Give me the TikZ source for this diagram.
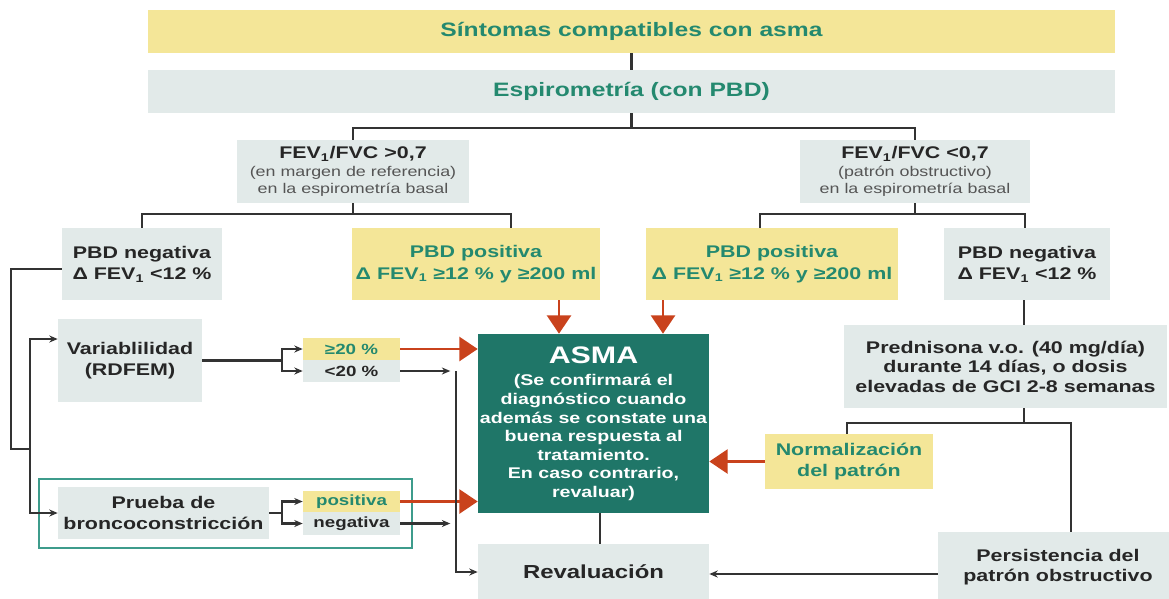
\documentclass[tikz,border=0pt]{standalone}
\usepackage{fontspec}
\setmainfont{Liberation Sans}[FakeStretch=1.27]
\usetikzlibrary{arrows.meta}
\definecolor{amarillo}{HTML}{F4E698}
\definecolor{gris}{HTML}{E2EAE9}
\definecolor{verde}{HTML}{24896F}
\definecolor{verdeasma}{HTML}{1F7668}
\definecolor{rojo}{HTML}{C9421C}
\definecolor{lineagris}{HTML}{333333}
\definecolor{texto}{HTML}{262626}
\definecolor{textonota}{HTML}{555555}
\definecolor{marco}{HTML}{3E9C8C}
\newcommand\nota[1]{{\mdseries\fontsize{10}{12}\selectfont\color{textonota}#1}}
\begin{document}
\begin{tikzpicture}[x=0.025cm, y=-0.025cm,
  caja/.style={fill=gris, text=texto, align=center, inner sep=0pt, font=\bfseries\fontsize{12}{15.4}\selectfont},
  cajaam/.style={caja, fill=amarillo, text=verde},
  peq/.style={caja, minimum width=2.425cm, font=\bfseries\fontsize{10.5}{12}\selectfont},
  con/.style={draw=lineagris, line width=1.5pt},
  flecha/.style={con, -{Stealth[length=6pt, width=5pt]}},
  roja/.style={draw=rojo, line width=2pt, -{Triangle[length=13pt, width=17pt]}}]
\useasboundingbox (0,0) rectangle (1169,598);
\draw[marco, line width=1pt] (39,479) rectangle (412,548);
% cajas
\node[cajaam, minimum width=24.175cm, minimum height=1.075cm, font=\bfseries\fontsize{13.8}{16}\selectfont] (sint) at (631.5,31.5) {Síntomas compatibles con asma};
\node[caja, text=verde, minimum width=24.175cm, minimum height=1.075cm, font=\bfseries\fontsize{13.8}{16}\selectfont] (espiro) at (631.5,91.5) {Espirometría (con PBD)};
\node[caja, minimum width=5.8cm, minimum height=1.575cm, font=\bfseries\fontsize{12}{12.5}\selectfont] (fevA) at (353,171.5) {FEV\textsubscript{1}/FVC >0,7\\ \nota{(en margen de referencia)}\\ \nota{en la espirometría basal}};
\node[caja, minimum width=5.75cm, minimum height=1.575cm, font=\bfseries\fontsize{12}{12.5}\selectfont] (fevB) at (915,171.5) {FEV\textsubscript{1}/FVC <0,7\\ \nota{(patrón obstructivo)}\\ \nota{en la espirometría basal}};
\node[caja, minimum width=4cm, minimum height=1.8cm] (negA) at (142,264) {PBD negativa\\ Δ FEV\textsubscript{1} <12 \%};
\node[cajaam, minimum width=6.2cm, minimum height=1.8cm] (posA) at (476,264) {PBD positiva\\ Δ FEV\textsubscript{1} ≥12 \% y ≥200 ml};
\node[cajaam, minimum width=6.3cm, minimum height=1.8cm] (posB) at (772,264) {PBD positiva\\ Δ FEV\textsubscript{1} ≥12 \% y ≥200 ml};
\node[caja, minimum width=4.15cm, minimum height=1.8cm] (negB) at (1027,264) {PBD negativa\\ Δ FEV\textsubscript{1} <12 \%};
\node[caja, fill=verdeasma, text=white, minimum width=5.775cm, minimum height=4.475cm, font=\bfseries\fontsize{11}{13.2}\selectfont] (asma) at (593.5,423.5) {{\fontsize{17}{18}\selectfont ASMA}\\[3pt] (Se confirmará el\\ diagnóstico cuando\\ además se constate una\\ buena respuesta al\\ tratamiento.\\ En caso contrario,\\ revaluar)};
\node[caja, minimum width=3.6cm, minimum height=2.075cm] (var) at (130,360.5) {Variablilidad\\ (RDFEM)};
\node[peq, fill=amarillo, text=verde, minimum height=0.55cm] (ge20) at (351.5,349) {≥20 \%};
\node[peq, minimum height=0.55cm] (lt20) at (351.5,371) {<20 \%};
\node[caja, minimum width=5.275cm, minimum height=1.3cm] (prueba) at (163.5,513) {Prueba de\\ broncoconstricción};
\node[peq, fill=amarillo, text=verde, minimum height=0.525cm] (pos) at (351.5,501.5) {positiva};
\node[peq, minimum height=0.575cm] (neg) at (351.5,523.5) {negativa};
\node[caja, minimum width=5.775cm, minimum height=1.4cm, font=\bfseries\fontsize{13.4}{16}\selectfont] (reval) at (593.5,572) {Revaluación};
\node[cajaam, minimum width=4.2cm, minimum height=1.375cm, font=\bfseries\fontsize{12}{15}\selectfont] (norm) at (849,461.5) {Normalización\\ del patrón};
\node[caja, minimum width=8.075cm, minimum height=2.075cm, font=\bfseries\fontsize{12}{13.9}\selectfont] (pred) at (1005.5,366.5) {Prednisona v.o. (40 mg/día)\\ durante 14 días, o dosis\\ elevadas de GCI 2-8 semanas};
\node[caja, minimum width=6cm, minimum height=1.75cm, font=\bfseries\fontsize{12}{14.2}\selectfont] (pers) at (1058,567) {Persistencia del\\ patrón obstructivo};
% tronco
\draw[con] (sint) -- (espiro);
\draw[con] (espiro.south) -- ++(0,15) coordinate (r1);
\draw[con] (fevA.north) |- (r1) -| (fevB.north);
\draw[con] (fevA.south) -- ++(0,11) coordinate (r2);
\draw[con] (negA.north) |- (r2) -| (posA.north -| 511,0);
\draw[con] (fevB.south) -- ++(0,11) coordinate (r3);
\draw[con] (posB.north -| 760,0) |- (r3) -| (negB.north -| 1025,0);
\draw[roja] (posA.south -| 559,0) -- (asma.north -| 559,0);
\draw[roja] (posB.south -| 663,0) -- (asma.north -| 663,0);
% rama derecha
\draw[con] (negB.south -| 1024,0) -- (pred.north -| 1024,0);
\draw[con] (pred.south -| 1024,0) -- ++(0,15) coordinate (r4);
\draw[con] (norm.north -| 847,0) |- (r4) -| (pers.north -| 1071,0);
\draw[roja] (norm.west) -- (asma.east |- norm.west);
\draw[flecha] (pers.west |- 0,574) -- (reval.east |- 0,574);
\draw[con] (asma.south -| 600,0) -- (reval.north -| 600,0);
% rama izquierda
\draw[con] (negA.west |- 0,269) -| (11,449) -- (30,449) coordinate (r5);
\draw[flecha] (r5) |- (var.west |- 0,339);
\draw[flecha] (r5) |- (prueba.west);
\draw[con] (var.east) -- ++(80,0) coordinate (f1);
\draw[flecha] (f1) |- (ge20.west);
\draw[flecha] (f1) |- (lt20.west);
\draw[con] (prueba.east) -- ++(13,0) coordinate (f2);
\draw[flecha] (f2) |- (pos.west);
\draw[flecha] (f2) |- (neg.west);
\draw[roja] (ge20.east) -- (asma.west |- ge20.east);
\draw[roja] (pos.east) -- (asma.west |- pos.east);
\draw[flecha] (lt20.east) -- ++(50,0);
\draw[flecha] (neg.east) -- ++(50,0);
\draw[flecha] (lt20.east -| 456,0) |- (reval.west);
\end{tikzpicture}
\end{document}
